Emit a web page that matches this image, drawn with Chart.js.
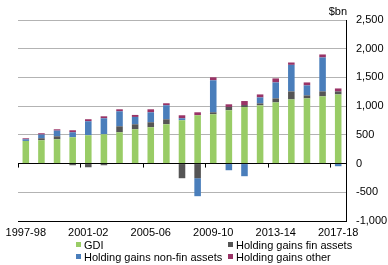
<!DOCTYPE html>
<html>
<head>
<meta charset="utf-8">
<script src="https://cdn.jsdelivr.net/npm/chart.js"></script>
<style>
    body { margin: 0; background: #fff; }
    #wrap { position: relative; width: 388px; height: 265px; }
    #legend { position: absolute; left: 0; top: 0; width: 388px; height: 265px; pointer-events: none;
        font: 11px "Liberation Sans", Arial, sans-serif; color: #000; }
    .item { position: absolute; white-space: nowrap; line-height: 12px; }
    .item span { display: inline-block; width: 5px; height: 5px; margin-right: 3px; vertical-align: 2px; }
</style>
</head>
<body>
<div id="wrap">
    <canvas id="chart" width="388" height="265"></canvas>
    <div id="legend"></div>
</div>
<script>
// Data ($bn)
const years = ['1997-98', '1998-99', '1999-00', '2000-01', '2001-02', '2002-03', '2003-04',
    '2004-05', '2005-06', '2006-07', '2007-08', '2008-09', '2009-10', '2010-11', '2011-12',
    '2012-13', '2013-14', '2014-15', '2015-16', '2016-17', '2017-18'];
const gdi = [394, 406, 423, 458, 493, 510, 545, 597, 632, 684, 754, 841, 858, 928, 984, 1013, 1065, 1117, 1135, 1170, 1204];
const finAssets = [0, 35, 52, -29, -64, -29, 104, 87, 87, 87, -255, -255, 35, 58, 35, 35, 70, 139, 52, 87, 52];
const nonFinAssets = [29, 64, 99, 87, 244, 278, 261, 128, 174, 244, 35, -313, 557, -116, -220, 104, 278, 463, 174, 591, -46];
const otherGains = [17, 23, 23, 35, 35, 35, 35, 35, 52, 35, 52, 52, 52, 46, 70, 52, 70, 41, 52, 52, 52];
const yTicks = [-1000, -500, 0, 500, 1000, 1500, 2000, 2500];

const seriesNames = ['GDI', 'Holding gains fin assets', 'Holding gains non-fin assets', 'Holding gains other'];
const seriesColors = ['#99cc66', '#555555', '#4a7ebb', '#993366'];
const seriesData = [gdi, finAssets, nonFinAssets, otherGains];

const font = { family: '"Liberation Sans", Arial, sans-serif', size: 11 };

// tick marks on the zero line every 4 years, plus the $bn unit label
const extras = {
    id: 'extras',
    afterDatasetsDraw(chart) {
        const ctx = chart.ctx;
        const x = chart.scales.x, y = chart.scales.y;
        const y0 = y.getPixelForValue(0);
        const step = x.getPixelForValue(1) - x.getPixelForValue(0);
        ctx.save();
        ctx.strokeStyle = '#000';
        ctx.lineWidth = 1;
        for (let i = 0; i <= years.length; i += 4) {
            const px = Math.round(x.getPixelForValue(i) - step / 2) + 0.5;
            ctx.beginPath();
            ctx.moveTo(px, y0);
            ctx.lineTo(px, y0 + 4);
            ctx.stroke();
        }
        ctx.fillStyle = '#000';
        ctx.font = '11px "Liberation Sans", Arial, sans-serif';
        ctx.textAlign = 'right';
        ctx.textBaseline = 'middle';
        ctx.fillText('$bn', chart.chartArea.right + 1, 12);
        ctx.restore();
    }
};

new Chart(document.getElementById('chart'), {
    type: 'bar',
    data: {
        labels: years,
        datasets: seriesData.map((d, i) => ({
            label: seriesNames[i],
            data: d,
            backgroundColor: seriesColors[i],
            borderWidth: 0,
            categoryPercentage: 1,
            barPercentage: 0.42
        }))
    },
    options: {
        responsive: false,
        animation: false,
        events: [],
        layout: { padding: { top: 20, left: 18, right: 0, bottom: 0 } },
        plugins: { legend: { display: false }, tooltip: { enabled: false } },
        scales: {
            x: {
                stacked: true,
                grid: { display: false, drawTicks: false },
                border: { display: false },
                ticks: {
                    autoSkip: false, maxRotation: 0, color: '#000', font: font, padding: 5,
                    callback: (v, i) => i % 4 === 0 ? years[i] : ''
                },
                afterFit: s => { s.height = 44; }
            },
            y: {
                stacked: true,
                position: 'right',
                min: -1000,
                max: 2500,
                afterBuildTicks: s => { s.ticks = yTicks.map(v => ({ value: v })); },
                grid: {
                    drawTicks: false,
                    color: c => (c.tick && (c.tick.value === 0 || c.tick.value === -1000)) ? '#000' : '#b3b3b3',
                    lineWidth: 1
                },
                border: { display: true, color: '#000' },
                ticks: {
                    color: '#000', font: font, padding: 10,
                    callback: v => v.toLocaleString('en-US')
                },
                afterFit: s => { s.width = 42; }
            }
        }
    },
    plugins: [extras]
});

// legend in two columns, like the original
const legendPos = [[76, 239], [228, 239], [76, 251], [228, 251]];
const legend = document.getElementById('legend');
seriesNames.forEach((name, i) => {
    const el = document.createElement('div');
    el.className = 'item';
    el.style.left = legendPos[i][0] + 'px';
    el.style.top = legendPos[i][1] + 'px';
    el.innerHTML = '<span style="background:' + seriesColors[i] + '"></span>' + name;
    legend.appendChild(el);
});
</script>
</body>
</html>
